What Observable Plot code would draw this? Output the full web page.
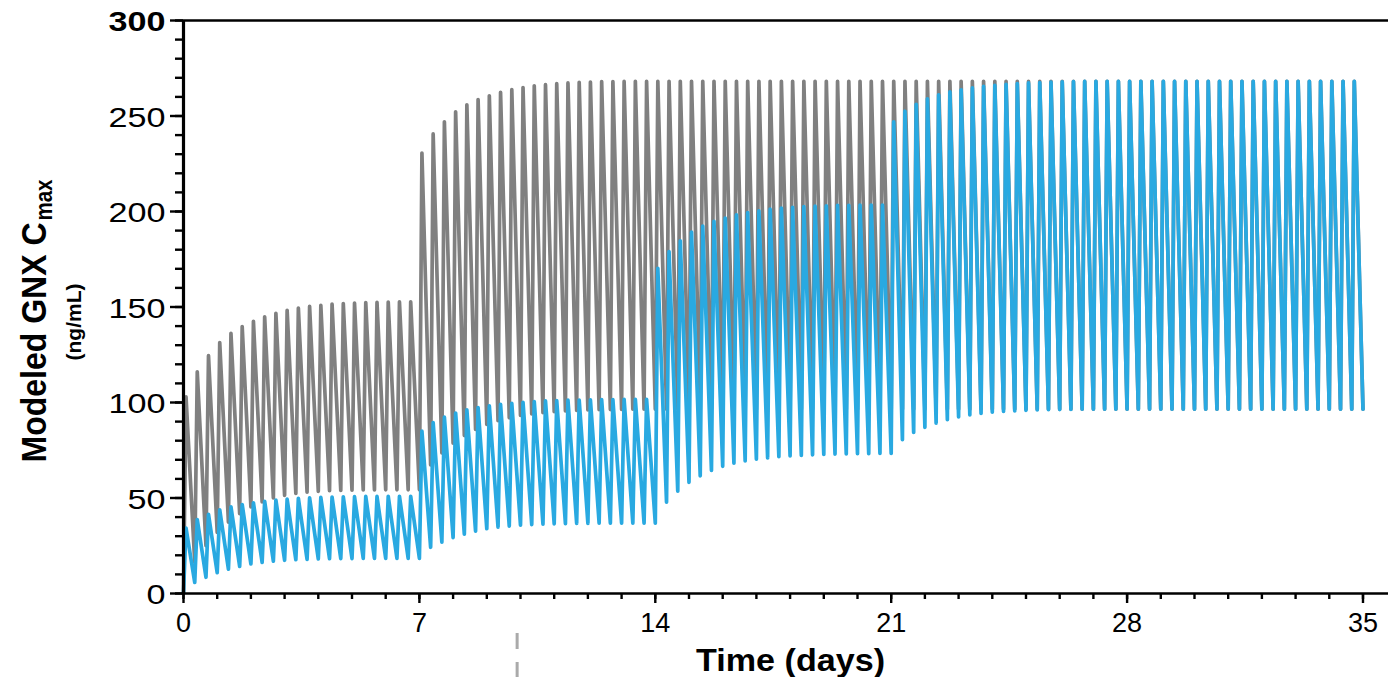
<!DOCTYPE html>
<html>
<head>
<meta charset="utf-8">
<script src="https://cdn.jsdelivr.net/npm/d3@7"></script>
<script src="https://cdn.jsdelivr.net/npm/@observablehq/plot@0.6"></script>
<style>
  html, body { margin: 0; padding: 0; background: #fff; }
  #chart svg { display: block; }
</style>
</head>
<body>
<div id="chart"></div>
<script>
// ---- dosing schedule (every 8 h) ----
const doseIntervalDays = 1 / 3;
const peakOffsetDays = 0.075;

// ---- axis ticks ----
const xTickLabels = [0, 7, 14, 21, 28, 35];
const xMinorTicks = [0,1,2,3,4,5,6,7,8,9,10,11,12,13,14,15,16,17,18,19,20,21,22,23,24,25,26,27,28,29,30,31,32,33,34,35];
const yTickLabels = [0, 50, 100, 150, 200, 250];
const yTopLabel = [300];
const yMajorTicks = [0, 50, 100, 150, 200, 250, 300];
const yMinorTicks = [0,10,20,30,40,50,60,70,80,90,100,110,120,130,140,150,160,170,180,190,200,210,220,230,240,250,260,270,280,290,300];
const markerDay = [9.9];
const markerSpan = [-21, -46];

// ---- gray regimen: per-dose peak and trough (ng/mL) ----
const grayPeaks = [
  // week 1
  103.0, 116.1, 124.5, 131.4, 136.2, 139.8, 142.5, 144.9, 146.7, 148.2, 149.4, 150.3, 150.9, 151.5, 151.8, 152.1, 152.3, 152.4, 152.6, 152.7, 152.7,
  // week 2
  230.6, 240.6, 247.0, 252.2, 255.9, 258.6, 260.6, 262.4, 263.8, 264.9, 265.8, 266.4, 266.9, 267.3, 267.6, 267.8, 268.0, 268.0, 268.1, 268.2, 268.2,
  // week 3
  268.2, 268.2, 268.2, 268.2, 268.2, 268.2, 268.2, 268.2, 268.2, 268.2, 268.2, 268.2, 268.2, 268.2, 268.2, 268.2, 268.2, 268.2, 268.2, 268.2, 268.2,
  // week 4
  268.2, 268.2, 268.2, 268.2, 268.2, 268.2, 268.2, 268.2, 268.2, 268.2, 268.2, 268.2, 268.2, 268.2, 268.2, 268.2, 268.2, 268.2, 268.2, 268.2, 268.2,
  // week 5
  268.2, 268.2, 268.2, 268.2, 268.2, 268.2, 268.2, 268.2, 268.2, 268.2, 268.2, 268.2, 268.2, 268.2, 268.2, 268.2, 268.2, 268.2, 268.2, 268.2, 268.2
];
const grayTroughs = [
  16.4, 25.0, 32.0, 37.4, 41.8, 45.3, 48.0, 50.0, 51.4, 52.4, 53.0, 53.5, 53.8, 54.0, 54.1, 54.2, 54.2, 54.3, 54.3, 54.3, 54.3,
  67.3, 73.6, 78.7, 82.7, 85.9, 88.5, 90.5, 92.0, 93.2, 94.0, 94.7, 95.2, 95.6, 95.9, 96.1, 96.2, 96.3, 96.4, 96.5, 96.5, 96.5,
  96.5, 96.5, 96.5, 96.5, 96.5, 96.5, 96.5, 96.5, 96.5, 96.5, 96.5, 96.5, 96.5, 96.5, 96.5, 96.5, 96.5, 96.5, 96.5, 96.5, 96.5,
  96.5, 96.5, 96.5, 96.5, 96.5, 96.5, 96.5, 96.5, 96.5, 96.5, 96.5, 96.5, 96.5, 96.5, 96.5, 96.5, 96.5, 96.5, 96.5, 96.5, 96.5,
  96.5, 96.5, 96.5, 96.5, 96.5, 96.5, 96.5, 96.5, 96.5, 96.5, 96.5, 96.5, 96.5, 96.5, 96.5, 96.5, 96.5, 96.5, 96.5, 96.5, 96.5
];

// ---- blue regimen: per-dose peak and trough (ng/mL) ----
const bluePeaks = [
  34.3, 38.7, 41.5, 43.8, 45.4, 46.6, 47.5, 48.3, 48.9, 49.4, 49.8, 50.1, 50.3, 50.5, 50.6, 50.7, 50.8, 50.8, 50.9, 50.9, 50.9,
  85.0, 89.5, 92.3, 94.5, 96.1, 97.3, 98.2, 99.0, 99.6, 100.1, 100.5, 100.8, 101.0, 101.2, 101.3, 101.4, 101.5, 101.5, 101.6, 101.6, 101.6,
  170.2, 179.0, 184.6, 189.2, 192.4, 194.8, 196.6, 198.2, 199.4, 200.4, 201.2, 201.8, 202.2, 202.6, 202.8, 203.0, 203.2, 203.2, 203.4, 203.4, 203.4,
  247.0, 252.5, 256.1, 259.0, 261.1, 262.6, 263.7, 264.7, 265.5, 266.1, 266.6, 267.0, 267.3, 267.5, 267.7, 267.9, 268.0, 268.1, 268.1, 268.2, 268.2,
  268.2, 268.2, 268.2, 268.2, 268.2, 268.2, 268.2, 268.2, 268.2, 268.2, 268.2, 268.2, 268.2, 268.2, 268.2, 268.2, 268.2, 268.2, 268.2, 268.2, 268.2
];
const blueTroughs = [
  5.8, 8.5, 10.9, 12.7, 14.2, 15.5, 16.3, 16.9, 17.4, 17.7, 17.9, 18.1, 18.2, 18.3, 18.3, 18.4, 18.4, 18.4, 18.4, 18.4, 18.4,
  24.2, 26.9, 29.3, 31.1, 32.6, 33.9, 34.7, 35.3, 35.8, 36.1, 36.3, 36.5, 36.6, 36.7, 36.7, 36.8, 36.8, 36.8, 36.8, 36.8, 36.8,
  47.8, 53.6, 58.2, 61.6, 64.4, 66.6, 68.2, 69.4, 70.3, 71.0, 71.6, 72.0, 72.3, 72.6, 72.8, 73.0, 73.1, 73.2, 73.2, 73.3, 73.3,
  80.5, 84.3, 87.0, 89.2, 91.0, 92.4, 93.5, 94.3, 94.9, 95.3, 95.6, 95.9, 96.1, 96.2, 96.3, 96.4, 96.5, 96.5, 96.5, 96.5, 96.5,
  96.5, 96.5, 96.5, 96.5, 96.5, 96.5, 96.5, 96.5, 96.5, 96.5, 96.5, 96.5, 96.5, 96.5, 96.5, 96.5, 96.5, 96.5, 96.5, 96.5, 96.5
];

const grayColor = "#808080";
const blueColor = "#29a9e1";

function buildSeries(peaks, troughs) {
  const pts = [{t: 0, c: 0}];
  peaks.forEach((p, i) => {
    pts.push({t: i * doseIntervalDays + peakOffsetDays, c: p});
    pts.push({t: (i + 1) * doseIntervalDays, c: troughs[i]});
  });
  return pts;
}
const graySeries = buildSeries(grayPeaks, grayTroughs);
const blueSeries = buildSeries(bluePeaks, blueTroughs);

const blank = () => "";
const font = "'Liberation Sans', Arial, Helvetica, sans-serif";

const chart = Plot.plot({
  width: 1388,
  height: 677,
  marginLeft: 183,
  marginRight: 0,
  marginTop: 20,
  marginBottom: 84,
  x: {domain: [0, 35.757], axis: null},
  y: {domain: [0, 300], axis: null},
  style: {fontFamily: font, background: "#fff", color: "#000"},
  marks: [
    Plot.line(graySeries, {x: "t", y: "c", stroke: grayColor, strokeWidth: 3.7, strokeLinejoin: "round"}),
    Plot.line(blueSeries, {x: "t", y: "c", stroke: blueColor, strokeWidth: 3.7, strokeLinejoin: "round"}),
    // frame lines
    Plot.ruleY([0, 300], {stroke: "#000", strokeWidth: 2.7}),
    Plot.ruleX([0], {stroke: "#000", strokeWidth: 3.2}),
    // y ticks
    Plot.axisY(yMinorTicks, {anchor: "left", label: null, tickSize: 8, tickFormat: blank, strokeWidth: 2.4}),
    Plot.axisY(yMajorTicks, {anchor: "left", label: null, tickSize: 13, tickFormat: blank, strokeWidth: 2.4}),
    Plot.axisY(yTickLabels, {anchor: "left", label: null, tickSize: 0, tickPadding: 18, fontSize: 27, dy: 2}),
    Plot.axisY(yTopLabel, {anchor: "left", label: null, tickSize: 0, tickPadding: 18, fontSize: 27, fontWeight: "bold", dy: 2}),
    // x ticks
    Plot.axisX(xMinorTicks, {anchor: "bottom", label: null, tickSize: 6, tickFormat: blank, strokeWidth: 2.4}),
    Plot.axisX(xTickLabels, {anchor: "bottom", label: null, tickSize: 10, tickFormat: blank, strokeWidth: 2.4}),
    Plot.axisX(xTickLabels, {anchor: "bottom", label: null, tickSize: 0, tickPadding: 19, fontSize: 27}),
    // titles
    Plot.text(["Modeled GNX C"], {text: d => d, frameAnchor: "top-left", rotate: -90, textAnchor: "end", lineAnchor: "bottom",
      dx: -138, dy: 202, fontSize: 35, fontWeight: "bold"}),
    Plot.text(["max"], {text: d => d, frameAnchor: "top-left", rotate: -90, textAnchor: "start", lineAnchor: "bottom",
      dx: -132, dy: 200, fontSize: 23, fontWeight: "bold"}),
    Plot.text(["(ng/mL)"], {text: d => d, frameAnchor: "left", rotate: -90, textAnchor: "middle", lineAnchor: "middle",
      dx: -109.5, dy: 15, fontSize: 21, fontWeight: "bold"}),
    Plot.text(["Time (days)"], {text: d => d, frameAnchor: "bottom", textAnchor: "middle", lineAnchor: "bottom",
      dx: 4.5, dy: 77, fontSize: 32, fontWeight: "bold"}),
    // small dashed marker below the axis
    Plot.ruleX(markerDay, {y1: markerSpan[0], y2: markerSpan[1], stroke: "#aaaaaa", strokeWidth: 3, strokeDasharray: "16,13"})
  ]
});

// widen glyphs to match the reference's horizontally stretched lettering
const svg = d3.select(chart);
svg.selectAll('g[aria-label="y-axis tick label"] text').each(function () {
  const s = this.textContent.trim();
  if (!s) return;
  this.setAttribute("textLength", 19 * s.length);
  this.setAttribute("lengthAdjust", "spacingAndGlyphs");
});
const fitLengths = {"Time (days)": 189, "Modeled GNX C": 240, "max": 41};
svg.selectAll('g[aria-label="text"] text').each(function () {
  const s = this.textContent.trim();
  if (fitLengths[s]) {
    this.setAttribute("textLength", fitLengths[s]);
    this.setAttribute("lengthAdjust", "spacingAndGlyphs");
  }
});

document.getElementById("chart").appendChild(chart);
</script>
</body>
</html>
